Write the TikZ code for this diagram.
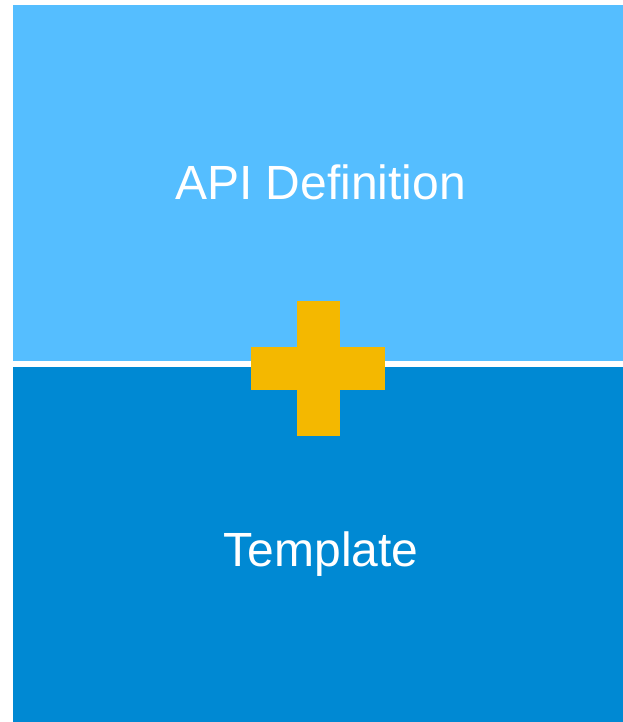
\documentclass[tikz,border=0pt]{standalone}
\usepackage{fontspec}
\setmainfont{Liberation Sans}
\definecolor{lightpanel}{HTML}{55BEFF}
\definecolor{darkpanel}{HTML}{0089D3}
\definecolor{plusyellow}{HTML}{F4B800}
\tikzset{
  label/.style={text=white, font=\fontsize{48}{52}\selectfont, anchor=base, inner sep=0pt},
}
\begin{document}
\begin{tikzpicture}[x=1pt,y=-1pt]
  \useasboundingbox (0,0) rectangle (623,722);
  \fill[white] (0,0) rectangle (623,722);
  % two stacked panels
  \fill[lightpanel] (13,5) rectangle (623,360.5);
  \fill[darkpanel] (13,367) rectangle (623,722);
  % plus sign over the seam
  \fill[plusyellow] (297,301.3) rectangle (339.7,435.7);
  \fill[plusyellow] (251,347.3) rectangle (385.3,389.7);
  % panel captions
  \node[label] (api) at (320.5,199.5) {API Definition};
  \node[label] (tpl) at (321,566.7) {Template};
\end{tikzpicture}
\end{document}
